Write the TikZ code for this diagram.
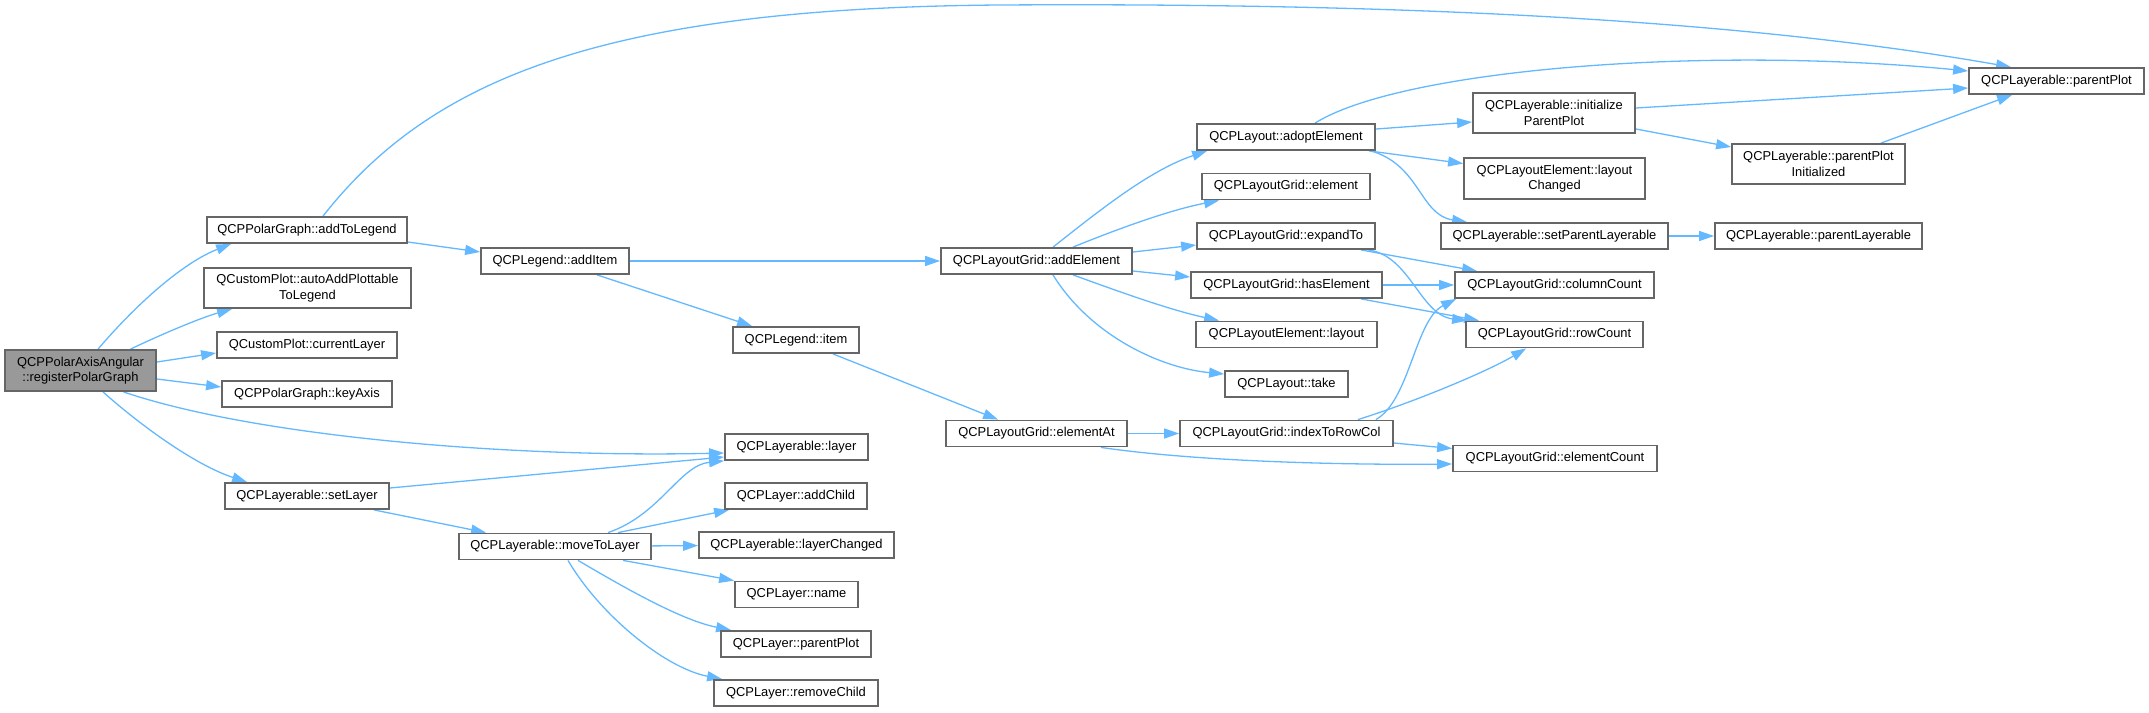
\documentclass[tikz,border=0pt]{standalone}
\usepackage{fontspec}
\setmainfont{Liberation Sans}
\usetikzlibrary{arrows.meta}
\definecolor{edgeblue}{HTML}{63B8FF}
\definecolor{boxgray}{HTML}{666666}
\definecolor{rootfill}{HTML}{999999}
\pgfdeclarelayer{bg}
\pgfsetlayers{bg,main}
\begin{document}
\begin{tikzpicture}[x=1pt,y=-1pt,
  nbox/.style={draw=boxgray, fill=white, line width=1.8pt, inner sep=0pt,
    minimum height=26pt, align=center, font=\fontsize{12.9pt}{15.5pt}\selectfont},
  root/.style={nbox, fill=rootfill},
  conn/.style={draw=edgeblue, line width=1.3pt, -{Triangle[length=15pt,width=10pt]}}]
\useasboundingbox (0,0) rectangle (2149,712);

\node[root, minimum width=151pt, minimum height=41pt] (reg) at (80.5,370.5) {QCPPolarAxisAngular\\::registerPolarGraph};
\node[nbox, minimum width=200pt] (atl) at (307,230) {QCPPolarGraph::addToLegend};
\node[nbox, minimum width=207pt, minimum height=40pt] (aap) at (307.5,288) {QCustomPlot::autoAddPlottable\\ToLegend};
\node[nbox, minimum width=180pt] (cl) at (307,345) {QCustomPlot::currentLayer};
\node[nbox, minimum width=170pt] (ka) at (307,394) {QCPPolarGraph::keyAxis};
\node[nbox, minimum width=164pt] (sl) at (307,496) {QCPLayerable::setLayer};
\node[nbox, minimum width=148pt] (ai) at (555,261) {QCPLegend::addItem};
\node[nbox, minimum width=126pt] (it) at (796,340) {QCPLegend::item};
\node[nbox, minimum width=192pt] (mtl) at (555,546.5) {QCPLayerable::moveToLayer};
\node[nbox, minimum width=143pt] (lay) at (796.5,447) {QCPLayerable::layer};
\node[nbox, minimum width=142pt] (adc) at (796,496) {QCPLayer::addChild};
\node[nbox, minimum width=195pt] (lch) at (796.5,545) {QCPLayerable::layerChanged};
\node[nbox, minimum width=123pt] (nm) at (796.5,594.5) {QCPLayer::name};
\node[nbox, minimum width=150pt] (lpp) at (796,644) {QCPLayer::parentPlot};
\node[nbox, minimum width=164pt] (rc) at (796,693) {QCPLayer::removeChild};
\node[nbox, minimum width=191pt] (ae) at (1036.5,261) {QCPLayoutGrid::addElement};
\node[nbox, minimum width=181pt] (ea) at (1036.5,433.5) {QCPLayoutGrid::elementAt};
\node[nbox, minimum width=178pt] (ado) at (1286,137) {QCPLayout::adoptElement};
\node[nbox, minimum width=168pt] (el) at (1286,186.5) {QCPLayoutGrid::element};
\node[nbox, minimum width=178pt] (ex) at (1286,236) {QCPLayoutGrid::expandTo};
\node[nbox, minimum width=191pt] (he) at (1286.5,285) {QCPLayoutGrid::hasElement};
\node[nbox, minimum width=181pt] (lo) at (1286.5,334.5) {QCPLayoutElement::layout};
\node[nbox, minimum width=123pt] (tk) at (1286.5,384) {QCPLayout::take};
\node[nbox, minimum width=213pt] (irc) at (1286.5,433.5) {QCPLayoutGrid::indexToRowCol};
\node[nbox, minimum width=162pt, minimum height=40pt] (ipp) at (1554,113) {QCPLayerable::initialize\\ParentPlot};
\node[nbox, minimum width=181pt, minimum height=41pt] (lc) at (1554.5,178.5) {QCPLayoutElement::layout\\Changed};
\node[nbox, minimum width=227pt] (spl) at (1554.5,236) {QCPLayerable::setParentLayerable};
\node[nbox, minimum width=199pt] (cc) at (1554.5,285) {QCPLayoutGrid::columnCount};
\node[nbox, minimum width=177pt] (rcn) at (1554.5,334.5) {QCPLayoutGrid::rowCount};
\node[nbox, minimum width=204pt] (ec) at (1555,458.5) {QCPLayoutGrid::elementCount};
\node[nbox, minimum width=173pt, minimum height=40pt] (ppi) at (1818.5,164) {QCPLayerable::parentPlot\\Initialized};
\node[nbox, minimum width=207pt] (plb) at (1818.5,236) {QCPLayerable::parentLayerable};
\node[nbox, minimum width=175pt] (pp) at (2056.5,81) {QCPLayerable::parentPlot};

\begin{pgfonlayer}{bg}
\draw[conn] ([xshift=17.5pt]reg.north) .. controls (140,300) and (185,262) .. ([xshift=25pt]atl.south west);
\draw[conn] ([xshift=50pt]reg.north) .. controls (160,335) and (200,318) .. ([xshift=29pt]aap.south west);
\draw[conn] ([yshift=8.5pt]reg.east) -- ([yshift=-8pt]cl.west);
\draw[conn] ([yshift=-8.5pt]reg.east) -- ([yshift=7pt]ka.west);
\draw[conn] ([xshift=43pt]reg.south) .. controls (250,435) and (500,458) .. ([yshift=-6pt]lay.west);
\draw[conn] ([xshift=22.5pt]reg.south) .. controls (140,425) and (195,465) .. ([xshift=23pt]sl.north west);
\draw[conn] ([xshift=16pt]atl.north) .. controls (430,80) and (600,8) .. (1000,5) .. controls (1500,2) and (1800,30) .. ([xshift=43pt]pp.north west);
\draw[conn] ([yshift=-12pt]atl.east) -- ([yshift=9pt]ai.west);
\draw[conn] (ai) -- (ae);
\draw[conn] ([xshift=42pt]ai.south) -- ([xshift=20pt]it.north west);
\draw[conn] ([xshift=-27pt]it.south east) -- ([xshift=53pt]ea.north west);
\draw[conn] ([yshift=8pt]sl.east) -- ([yshift=-10pt]lay.west);
\draw[conn] ([xshift=-16pt]sl.south east) -- ([xshift=28pt]mtl.north west);
\draw[conn] ([xshift=53pt]mtl.north) .. controls (660,515) and (680,465) .. (lay.south west);
\draw[conn] ([xshift=63pt]mtl.north) -- ([xshift=5pt]adc.south west);
\draw[conn] (mtl) -- (lch);
\draw[conn] ([xshift=68pt]mtl.south) -- (nm.north west);
\draw[conn] ([xshift=23pt]mtl.south) .. controls (620,585) and (680,620) .. ([xshift=11pt]lpp.north west);
\draw[conn] ([xshift=13pt]mtl.south) .. controls (600,615) and (665,668) .. ([xshift=9pt]rc.north west);
\draw[conn] ([xshift=16.5pt]ae.north) .. controls (1100,210) and (1150,170) .. ([xshift=11pt]ado.south west);
\draw[conn] ([xshift=36.5pt]ae.north) .. controls (1120,228) and (1170,210) .. ([xshift=18pt]el.south west);
\draw[conn] ([yshift=9pt]ae.east) -- ([yshift=-9pt]ex.west);
\draw[conn] ([yshift=-10pt]ae.east) -- ([yshift=8pt]he.west);
\draw[conn] ([xshift=36.5pt]ae.south) .. controls (1120,292) and (1170,310) .. ([xshift=24pt]lo.north west);
\draw[conn] ([xshift=16.5pt]ae.south) .. controls (1090,335) and (1160,368) .. ([yshift=10pt]tk.west);
\draw[conn] (ea) -- (irc);
\draw[conn] ([xshift=-27pt]ea.south east) .. controls (1200,462) and (1350,465) .. ([yshift=-5.5pt]ec.west);
\draw[conn] ([xshift=-18pt]irc.north east) .. controls (1410,400) and (1415,320) .. ([xshift=2pt]cc.south west);
\draw[conn] ([xshift=-36pt]irc.north east) .. controls (1420,400) and (1490,370) .. ([xshift=61pt]rcn.south west);
\draw[conn] ([yshift=-9.5pt]irc.east) -- ([yshift=10pt]ec.west);
\draw[conn] ([xshift=29pt]ado.north) .. controls (1400,70) and (1700,45) .. ([yshift=10pt]pp.west);
\draw[conn] ([yshift=8pt]ado.east) -- ([yshift=-9pt]ipp.west);
\draw[conn] ([xshift=-7pt]ado.south east) -- ([yshift=15pt]lc.west);
\draw[conn] ([xshift=-5pt]ado.south east) .. controls (1420,165) and (1420,215) .. ([xshift=27pt]spl.north west);
\draw[conn] ([xshift=-15pt]ex.south east) -- ([xshift=23pt]cc.north west);
\draw[conn] ([xshift=-8pt]ex.south east) .. controls (1410,255) and (1420,315) .. ([xshift=2pt]rcn.north west);
\draw[conn] (he) -- (cc);
\draw[conn] ([xshift=-22pt]he.south east) -- ([xshift=14pt]rcn.north west);
\draw[conn] ([yshift=5pt]ipp.east) -- ([yshift=-7pt]pp.west);
\draw[conn] ([yshift=-16pt]ipp.east) -- ([yshift=17pt]ppi.west);
\draw[conn] ([xshift=-25pt]ppi.north east) -- ([xshift=44pt]pp.south west);
\draw[conn] (spl) -- (plb);
\end{pgfonlayer}
\end{tikzpicture}
\end{document}
